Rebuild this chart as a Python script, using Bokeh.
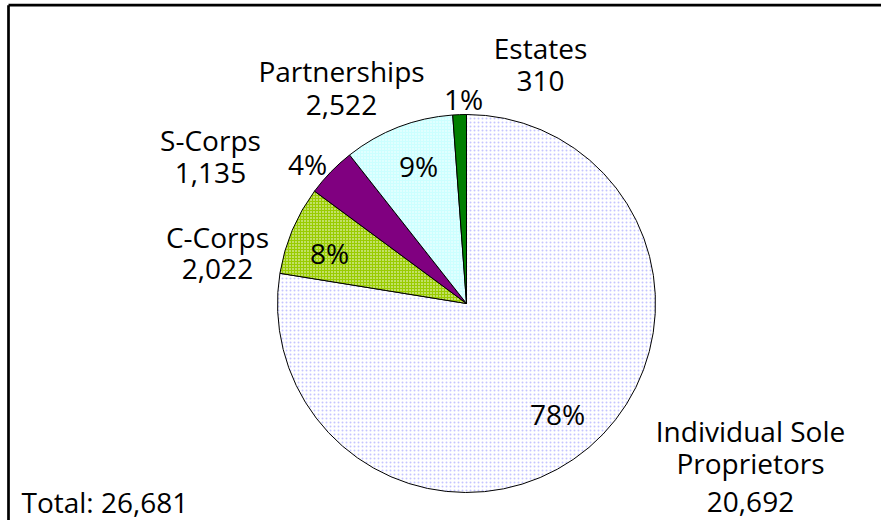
import math
from bokeh.plotting import figure
from bokeh.models import ColumnDataSource
from bokeh.core.properties import value
from bokeh.embed import file_html
from bokeh.resources import INLINE

# ---- data ----
categories = ["Individual Sole\nProprietors", "C-Corps", "S-Corps", "Partnerships", "Estates"]
counts = [20692, 2022, 1135, 2522, 310]

# ---- style ----
W, H = 881, 520
FONT = value("Open Sans")
FSIZE = "28px"
fills = ["white", "#99cc00", "#800080", "#ccffff", "#008000"]
hatch_patterns = ["dot", "dot", "blank", "dot", "blank"]
hatch_colors = ["#c4c4ff", "white", "white", "white", "white"]
hatch_scales = [4, 3, 4, 3, 4]
pie_center = (466, 303)   # screen px
pie_radius = 189
pct_pos = [(557, 413), (329, 252), (307, 163), (418, 165), (463, 98)]   # center x, baseline (screen)
name_pos = [(750, 430), (217, 236), (210, 139), (341, 70), (540, 47)]
value_base = [501, 268, 172, 104, 80]
line_gap = 32
total_pos = (21, 501)
frame_top, frame_left = 4.7, 8


def X(sx):
    return sx


def Y(sy):
    return H - sy


total = sum(counts)
cum = 0.0
starts, ends = [], []
for c in counts:
    f0 = cum / total
    cum += c
    f1 = cum / total
    starts.append(math.pi / 2 - f0 * 2 * math.pi)
    ends.append(math.pi / 2 - f1 * 2 * math.pi)

p = figure(width=W, height=H, x_range=(0, W), y_range=(0, H),
           output_backend="svg", toolbar_location=None, min_border=0)
p.axis.visible = False
p.grid.visible = False
p.outline_line_color = None
p.background_fill_color = "white"
p.border_fill_color = "white"

src = ColumnDataSource(dict(
    x=[X(pie_center[0])] * len(counts), y=[Y(pie_center[1])] * len(counts),
    start=starts, end=ends, fill=fills, hp=hatch_patterns, hc=hatch_colors, hs=hatch_scales,
))
p.wedge(x="x", y="y", radius=pie_radius, start_angle="start", end_angle="end",
        direction="clock", fill_color="fill", hatch_pattern="hp", hatch_color="hc",
        hatch_scale="hs", hatch_weight=1, line_color="black", line_width=1, source=src)

# percentage labels
pct_text = [f"{round(c / total * 100)}%" for c in counts]
p.text(x=[X(px) for px, _ in pct_pos], y=[Y(py) for _, py in pct_pos], text=pct_text,
       text_align="center", text_baseline="alphabetic", text_font=FONT,
       text_font_size=FSIZE, text_color="black")

# category + value labels
lx, ly, lt = [], [], []
for name, c, (nx, nb), vb in zip(categories, counts, name_pos, value_base):
    lines = name.split("\n")
    for i, ln in enumerate(lines):
        lx.append(X(nx)); ly.append(Y(nb + i * line_gap)); lt.append(ln)
    lx.append(X(nx)); ly.append(Y(vb)); lt.append(f"{c:,}")
p.text(x=lx, y=ly, text=lt, text_align="center", text_baseline="alphabetic",
       text_font=FONT, text_font_size=FSIZE, text_color="black")

p.text(x=[X(total_pos[0])], y=[Y(total_pos[1])], text=[f"Total: {total:,}"],
       text_align="left", text_baseline="alphabetic", text_font=FONT,
       text_font_size=FSIZE, text_color="black")

# frame (top and left edges visible)
p.multi_line(xs=[[frame_left, W + 5], [frame_left, frame_left]],
             ys=[[Y(frame_top), Y(frame_top)], [Y(frame_top), -5]],
             line_color="black", line_width=2.7)

open("out.html", "w").write(file_html(p, INLINE))
